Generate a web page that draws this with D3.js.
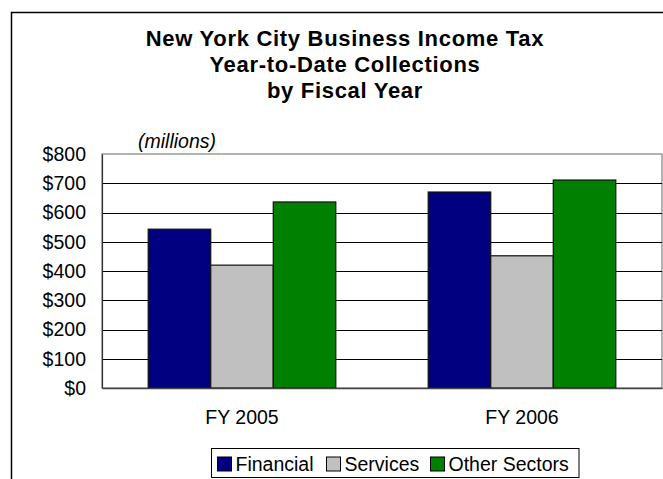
<!DOCTYPE html>
<html><head><meta charset="utf-8">
<script src="https://cdn.jsdelivr.net/npm/d3@7"></script>
<style>body{margin:0;background:#fff}svg{display:block;font-family:"Liberation Sans",Arial,sans-serif}</style>
</head><body>
<svg id="c" width="663" height="479"></svg>
<script>
const categories = ["FY 2005", "FY 2006"];
const seriesNames = ["Financial", "Services", "Other Sectors"];
const financial = [543, 670];
const services = [420, 452];
const otherSectors = [636, 711];
const yTicks = [0, 100, 200, 300, 400, 500, 600, 700, 800];
const titleLines = ["New York City Business Income Tax", "Year-to-Date Collections", "by Fiscal Year"];
const colors = ["#000080", "#C0C0C0", "#008000"];

(function () {
const seriesValues = [financial, services, otherSectors];
const svg = d3.select("#c");

// outer frame
svg.append("rect").attr("x", 11.5).attr("y", 12.5).attr("width", 700).attr("height", 500)
  .attr("fill", "none").attr("stroke", "#000").attr("stroke-width", 1.5);

// title
svg.append("g").selectAll("text").data(titleLines).join("text")
  .attr("x", 345).attr("y", (d, i) => 45.7 + i * 26.2)
  .attr("text-anchor", "middle").attr("font-weight", "bold")
  .attr("font-size", 22).attr("letter-spacing", 0.7)
  .text(d => d);

const pL = 102, pR = 662, pT = 154, pB = 388;
const x0 = d3.scaleBand().domain(categories).range([pL, pR]).paddingInner(0.33).paddingOuter(0.165);
const x1 = d3.scaleBand().domain(seriesNames).range([0, x0.bandwidth()]).padding(0);
const y = d3.scaleLinear().domain([0, 800]).range([pB, pT]);

// plot area border (top/right gray)
svg.append("rect").attr("x", pL).attr("y", pT).attr("width", pR - pL).attr("height", pB - pT)
  .attr("fill", "#fff").attr("stroke", "#808080").attr("stroke-width", 1.2);

// gridlines
svg.append("g").selectAll("line").data(yTicks.filter(t => t > 0 && t < 800)).join("line")
  .attr("x1", pL).attr("x2", pR).attr("y1", d => Math.round(y(d)) + 0.5).attr("y2", d => Math.round(y(d)) + 0.5)
  .attr("stroke", "#000").attr("stroke-width", 1);

// y axis
const yAxis = d3.axisLeft(y).tickValues(yTicks).tickSize(0).tickPadding(16).tickFormat(d => "$" + d);
const gy = svg.append("g").attr("transform", `translate(${pL},0)`).call(yAxis);
gy.select(".domain").attr("stroke", "#333").attr("stroke-width", 1.2);
gy.selectAll("text").attr("font-size", 19.5).attr("font-family", "Liberation Sans, Arial, sans-serif").attr("fill", "#000");

// bars
const groups = svg.append("g").selectAll("g").data(categories).join("g")
  .attr("transform", d => `translate(${x0(d)},0)`);
groups.selectAll("rect").data((c, ci) => seriesNames.map((s, si) => ({ s, si, v: seriesValues[si][ci] }))).join("rect")
  .attr("x", d => x1(d.s)).attr("width", x1.bandwidth())
  .attr("y", d => y(d.v)).attr("height", d => y(0) - y(d.v))
  .attr("fill", d => colors[d.si]).attr("stroke", "#111").attr("stroke-width", 1.2);

// x axis baseline
const xAxis = d3.axisBottom(x0).tickSize(0).tickPadding(22);
const gx = svg.append("g").attr("transform", `translate(0,${pB})`).call(xAxis);
gx.select(".domain").attr("stroke", "#444").attr("stroke-width", 1.5);
gx.selectAll("text").attr("font-size", 19.5).attr("font-family", "Liberation Sans, Arial, sans-serif").attr("fill", "#000");

// (millions)
svg.append("text").attr("x", 138).attr("y", 148).attr("font-size", 19.5).attr("font-style", "italic").text("(millions)");

// legend
const lg = svg.append("g");
lg.append("rect").attr("x", 211.5).attr("y", 448.5).attr("width", 367.5).attr("height", 29)
  .attr("fill", "#fff").attr("stroke", "#000").attr("stroke-width", 1);
const legendX = [217.5, 326.5, 430.5];
const items = lg.selectAll("g").data(seriesNames).join("g").attr("transform", (d, i) => `translate(${legendX[i]},0)`);
items.append("rect").attr("x", 0).attr("y", 457).attr("width", 14).attr("height", 14)
  .attr("fill", (d, i) => colors[i]).attr("stroke", "#000").attr("stroke-width", 1);
items.append("text").attr("x", 18).attr("y", 470.5).attr("font-size", 19.5).text(d => d);
})();
</script>
</body></html>
